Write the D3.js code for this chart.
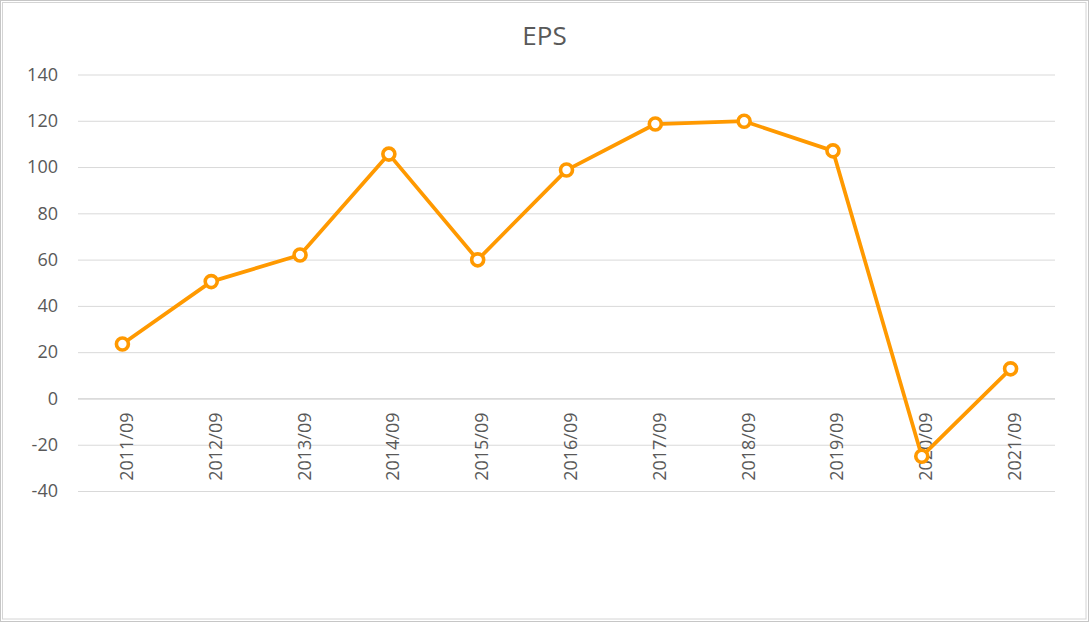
<!DOCTYPE html>
<html>
<head>
<meta charset="utf-8">
<script src="https://cdn.jsdelivr.net/npm/d3@7"></script>
<style>
  body { margin: 0; background: #fff; }
  text { font-family: "Open Sans", "Noto Sans", sans-serif; fill: #595959; }
</style>
</head>
<body>
<script>
// данные графика
var categories = ["2011/09", "2012/09", "2013/09", "2014/09", "2015/09", "2016/09",
                  "2017/09", "2018/09", "2019/09", "2020/09", "2021/09"];
var eps = [23.5, 50.5, 62, 105.6, 59.9, 98.7, 118.6, 119.8, 107, -25, 12.8];
var yTicks = [-40, -20, 0, 20, 40, 60, 80, 100, 120, 140];

var width = 1089, height = 622;
var plot = { left: 78, right: 1055, top: 74.5, bottom: 491 };

var svg = d3.select("body").append("svg")
    .attr("width", width)
    .attr("height", height);

// рамка
svg.append("rect")
    .attr("x", 0.5).attr("y", 0.5)
    .attr("width", width - 1).attr("height", height - 1)
    .style("fill", "none").style("stroke", "#c6c6c6");
svg.append("rect")
    .attr("x", 2.5).attr("y", 2.5)
    .attr("width", width - 5.5).attr("height", height - 5.5)
    .style("fill", "none").style("stroke", "#d4d4d4");

var x = d3.scaleBand()
    .domain(categories)
    .range([plot.left, plot.right]);

var y = d3.scaleLinear()
    .domain([-40, 140])
    .range([plot.bottom, plot.top]);

// сетка и подписи оси y
var yAxis = svg.append("g")
    .attr("transform", "translate(" + plot.left + ",0)")
    .call(d3.axisLeft(y)
        .tickValues(yTicks)
        .tickFormat(function(d) { return String(d); })  // обычный дефис вместо минуса
        .tickSize(-(plot.right - plot.left))
        .tickPadding(20));
yAxis.select(".domain").remove();
yAxis.selectAll(".tick line")
    .style("stroke", function(d) { return d === 0 ? "#bfbfbf" : "#d9d9d9"; })
    .style("stroke-width", 1);
yAxis.selectAll(".tick text")
    .style("font-size", "18px")
    .style("font-family", "'Open Sans', sans-serif")
    .style("fill", "#595959");

// подписи категорий (повернутые)
svg.append("g").selectAll("text")
    .data(categories)
    .join("text")
    .attr("transform", function(d) {
        return "translate(" + (x(d) + x.bandwidth() / 2 + 10.5) + "," + (y(0) + 14) + ") rotate(-90)";
    })
    .attr("text-anchor", "end")
    .style("font-size", "18px")
    .text(function(d) { return d; });

// заголовок
svg.append("text")
    .attr("x", 544.5)
    .attr("y", 45)
    .attr("text-anchor", "middle")
    .style("font-size", "26px")
    .text("EPS");

// линия
var line = d3.line()
    .x(function(d, i) { return x(categories[i]) + x.bandwidth() / 2; })
    .y(function(d) { return y(d); });

svg.append("path")
    .datum(eps)
    .attr("d", line)
    .style("fill", "none")
    .style("stroke", "#ff9900")
    .style("stroke-width", 3.75)
    .style("stroke-linejoin", "round");

// маркеры
svg.append("g").selectAll("circle")
    .data(eps)
    .join("circle")
    .attr("cx", function(d, i) { return x(categories[i]) + x.bandwidth() / 2; })
    .attr("cy", function(d) { return y(d); })
    .attr("r", 6)
    .style("fill", "#fff")
    .style("stroke", "#ff9900")
    .style("stroke-width", 3.6);
</script>
</body>
</html>
